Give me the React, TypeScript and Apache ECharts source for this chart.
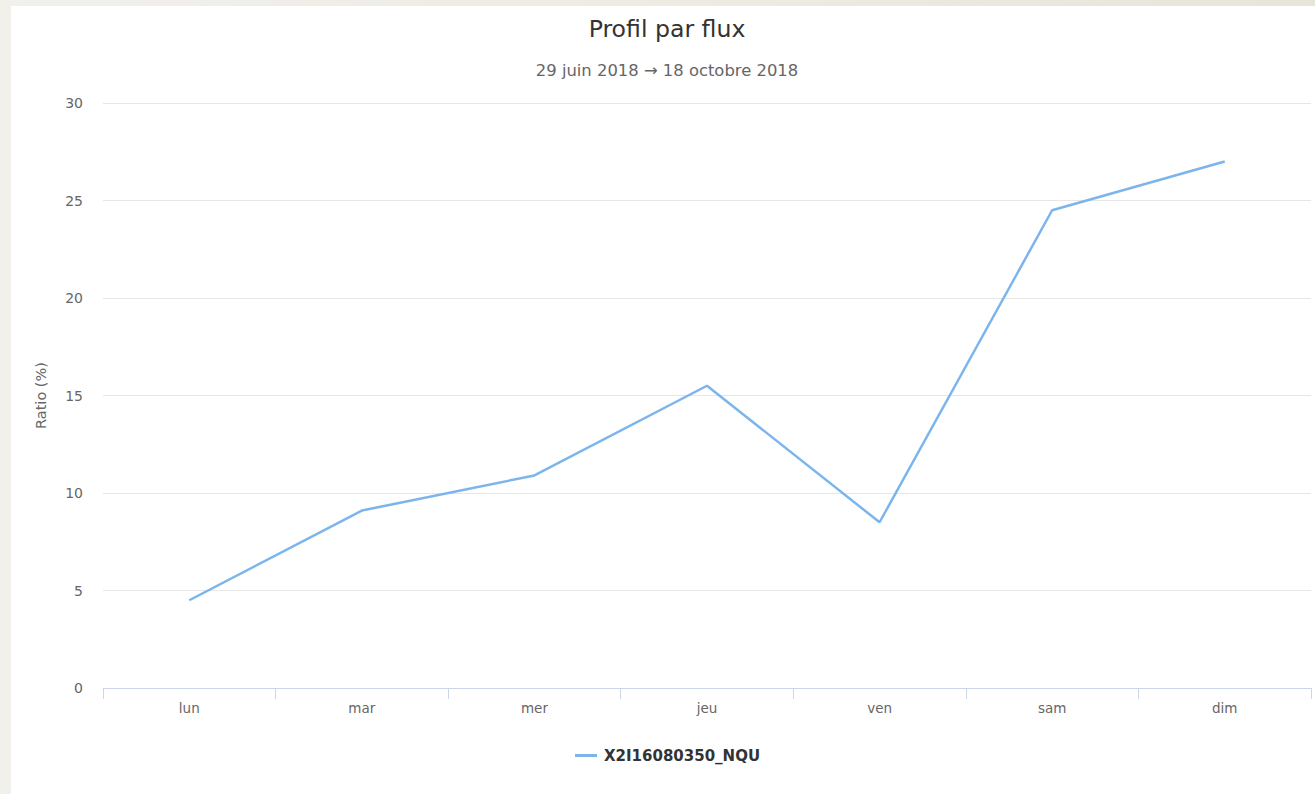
import React, { useEffect, useRef } from "react";
import * as echarts from "echarts";

const categories = ["lun", "mar", "mer", "jeu", "ven", "sam", "dim"];
const seriesName = "X2I16080350_NQU";
const ratioValues = [4.5, 9.1, 10.9, 15.5, 8.5, 24.5, 27.0];
const titleText = "Profil par flux";
const subtitleText = "29 juin 2018 → 18 octobre 2018";
const yAxisName = "Ratio (%)";

const FONT = "'DejaVu Sans', Verdana, sans-serif";

export default function App() {
  const ref = useRef<HTMLDivElement>(null);
  useEffect(() => {
    if (!ref.current) return;
    const chart = echarts.init(ref.current, undefined, { renderer: "svg" });
    chart.setOption({
      animation: false,
      backgroundColor: "transparent",
      textStyle: { fontFamily: FONT },
      title: [
        {
          text: titleText,
          left: 667,
          top: 17,
          textAlign: "center",
          padding: 0,
          textStyle: { fontFamily: FONT, fontSize: 23.6, fontWeight: "normal", color: "#333333" },
        },
        {
          text: subtitleText,
          left: 667,
          top: 62,
          textAlign: "center",
          padding: 0,
          textStyle: { fontFamily: FONT, fontSize: 16.4, fontWeight: "normal", color: "#666666" },
        },
      ],
      legend: {
        left: 575,
        top: 748,
        padding: 0,
        icon: "rect",
        itemWidth: 22,
        itemHeight: 3,
        textStyle: { fontFamily: FONT, fontSize: 15, fontWeight: "bold", color: "#333333", padding: [0, 0, 0, 2] },
        data: [seriesName],
      },
      grid: { left: 103, right: 4, top: 103, bottom: 106, containLabel: false },
      xAxis: {
        type: "category",
        data: categories,
        boundaryGap: true,
        axisLine: { lineStyle: { color: "#ccd6eb", width: 1 } },
        axisTick: { show: true, length: 11, lineStyle: { color: "#ccd6eb" } },
        axisLabel: { fontFamily: FONT, fontSize: 13.5, color: "#666666", margin: 13 },
        splitLine: { show: false },
      },
      yAxis: {
        type: "value",
        min: 0,
        max: 30,
        interval: 5,
        name: yAxisName,
        nameLocation: "middle",
        nameGap: 55,
        nameTextStyle: { fontFamily: FONT, fontSize: 14.5, color: "#666666" },
        axisLine: { show: false },
        axisTick: { show: false },
        axisLabel: { fontFamily: FONT, fontSize: 14, color: "#666666", margin: 20, padding: [0, 0, 5, 0] },
        splitLine: { lineStyle: { color: "#e6e6e6", width: 1 } },
      },
      series: [
        {
          name: seriesName,
          type: "line",
          data: ratioValues,
          symbol: "none",
          lineStyle: { color: "#7cb5ec", width: 2.5 },
          itemStyle: { color: "#7cb5ec" },
        },
      ],
    });
    return () => chart.dispose();
  }, []);

  return (
    <div
      style={{
        position: "fixed",
        left: 0,
        top: 0,
        width: 1315,
        height: 794,
        background: "linear-gradient(90deg, #f2f0eb 0%, #eeebe4 50%, #e9e4d9 100%)",
      }}
    >
      <div
        style={{ position: "absolute", left: 11, top: 6, right: 0, bottom: 0, background: "#ffffff" }}
      />
      <div ref={ref} style={{ position: "absolute", left: 0, top: 0, width: 1315, height: 794 }} />
    </div>
  );
}
